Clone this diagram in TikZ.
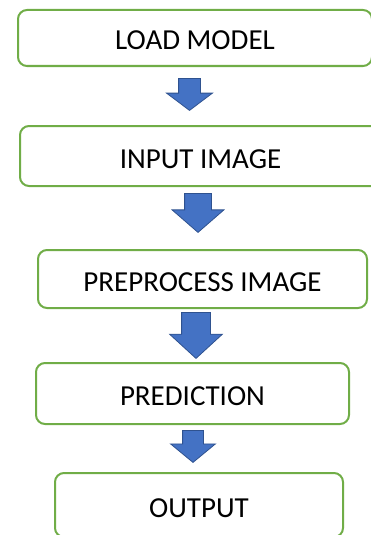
\documentclass[tikz,border=0pt]{standalone}
\usepackage{fontspec}
\setmainfont{Carlito}
\usetikzlibrary{shapes.arrows}
\definecolor{boxgreen}{HTML}{70AD47}
\definecolor{arrowblue}{HTML}{4472C4}
\definecolor{arrowedge}{HTML}{2F528F}
\tikzset{
    process/.style = {rectangle, rounded corners=9pt, draw=boxgreen, line width=2pt, fill=white, text centered, inner sep=0pt, text height=24pt, text depth=0pt, font=\fontsize{29}{35}\selectfont},
    blockarrow/.style = {single arrow, rotate=-90, anchor=tail, fill=arrowblue, draw=arrowedge, line width=0.8pt, inner xsep=0pt, single arrow head indent=0pt}
}
\begin{document}
\begin{tikzpicture}[x=1pt, y=-1pt]
\useasboundingbox (0,0) rectangle (371,535);
\clip (0,0) rectangle (371,535);
\node (load) [process, minimum width=354pt, minimum height=56pt] at (195,38) {LOAD MODEL};
\node (input) [process, minimum width=361pt, minimum height=60pt] at (200.5,156) {INPUT IMAGE};
\node (preprocess) [process, minimum width=329pt, minimum height=58pt] at (202.5,279) {PREPROCESS IMAGE};
\node (predict) [process, minimum width=313pt, minimum height=61pt] at (192.5,393.5) {PREDICTION};
\node (output) [process, minimum width=288pt, minimum height=64pt] at (199,505) {OUTPUT};

\node (step1) [blockarrow, minimum height=32pt, inner ysep=10.5pt, single arrow head extend=12pt, single arrow tip angle=106] at (189.5,78) {};
\node (step2) [blockarrow, minimum height=39pt, inner ysep=13pt, single arrow head extend=12.5pt, single arrow tip angle=98] at (198,193) {};
\node (step3) [blockarrow, minimum height=46pt, inner ysep=14pt, single arrow head extend=12pt, single arrow tip angle=95] at (196,312) {};
\node (step4) [blockarrow, minimum height=32pt, inner ysep=10pt, single arrow head extend=12pt, single arrow tip angle=101] at (193,430) {};
\end{tikzpicture}
\end{document}
